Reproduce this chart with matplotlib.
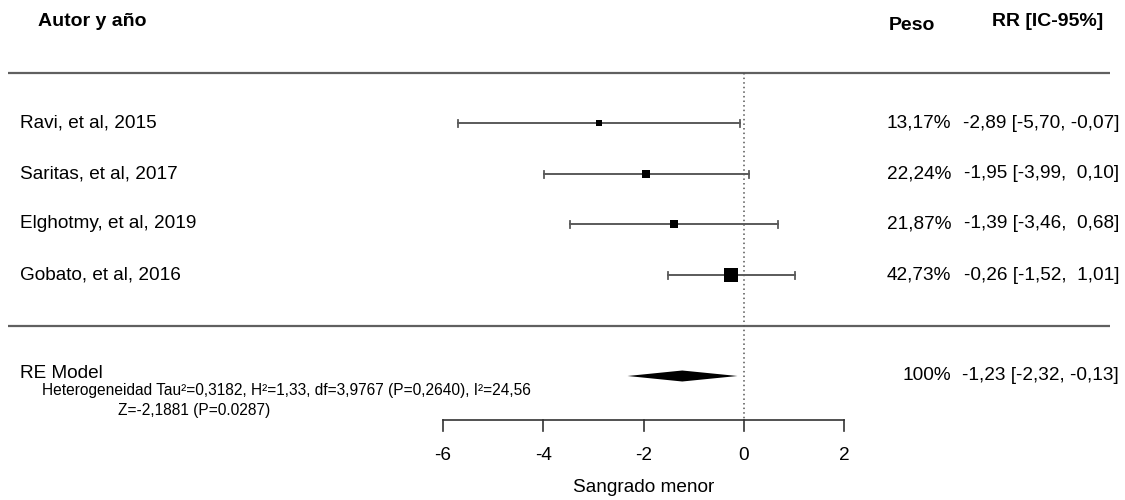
import matplotlib
matplotlib.use("Agg")
import matplotlib.pyplot as plt
from matplotlib.patches import Polygon

plt.rcParams['font.family'] = ['Liberation Sans', 'DejaVu Sans']

# ---- data ----
studies = ["Ravi, et al, 2015", "Saritas, et al, 2017", "Elghotmy, et al, 2019", "Gobato, et al, 2016"]
weights = [13.17, 22.24, 21.87, 42.73]
estimates = [-2.89, -1.95, -1.39, -0.26]
lower = [-5.70, -3.99, -3.46, -1.52]
upper = [-0.07, 0.10, 0.68, 1.01]
re_label = "RE Model"
re_est, re_lo, re_hi = -1.23, -2.32, -0.13
re_weight = "100%"
xticks = [-6, -4, -2, 0, 2]
xlabel = "Sangrado menor"
het_text = "Heterogeneidad Tau\u00b2=0,3182, H\u00b2=1,33, df=3,9767 (P=0,2640), I\u00b2=24,56"
z_text = "Z=-2,1881 (P=0.0287)"
headers = ["Autor y a\u00f1o", "Peso", "RR [IC-95%]"]


def num(v):
    return f"{v:.2f}".replace(".", ",").rjust(5)


def rr_str(e, l, u):
    return f"{num(e).strip()} [{num(l)}, {num(u)}]"


# ---- layout (pixel frame) ----
W, H = 1125, 500
fig = plt.figure(figsize=(W / 100, H / 100), dpi=100)
ax = fig.add_axes([0, 0, 1, 1])
ppu = 50.2          # pixels per unit
x0px = 744          # pixel of x=0
ax.set_xlim(-x0px / ppu, (W - x0px) / ppu)
ax.set_ylim(H, 0)
ax.axis("off")


def px(x):
    return (x - x0px) / ppu


row_y = [123, 174, 224, 275]
re_y = 376
line_col = "#606060"
bar_col = "#5a5a5a"
fs = 13.7

# separators
for yy in (73, 326):
    ax.plot([px(8), px(1110)], [yy, yy], color=line_col, lw=1.6, solid_capstyle="butt")

# reference line at 0
ax.plot([0, 0], [73, 420], color="#555555", lw=1.1, ls=(0, (1, 2)))

# headers
ax.text(px(38), 22, headers[0], fontsize=14, fontweight="bold", va="center", ha="left")
ax.text(px(935), 25, headers[1], fontsize=14, fontweight="bold", va="center", ha="right")
ax.text(px(1103), 22, headers[2], fontsize=14, fontweight="bold", va="center", ha="right")

# studies
for name, w, e, l, u, y in zip(studies, weights, estimates, lower, upper, row_y):
    ax.plot([l, u], [y, y], color=bar_col, lw=1.4)
    for c in (l, u):
        ax.plot([c, c], [y - 3.5, y + 3.5], color=bar_col, lw=1.3)
    side_px = 1 + 0.31 * w
    ax.plot([e], [y], marker="s", color="black", markersize=side_px * 0.72, mew=0)
    ax.text(px(20), y, name, fontsize=fs, va="center", ha="left")
    ax.text(px(951), y, f"{w:.2f}".replace(".", ",") + "%", fontsize=fs, va="center", ha="right")
    ax.text(px(1119), y, rr_str(e, l, u), fontsize=fs, va="center", ha="right")

# RE model
diamond = Polygon([[re_lo, re_y], [re_est, re_y - 5.5], [re_hi, re_y], [re_est, re_y + 5.5]],
                  closed=True, color="black", lw=0)
ax.add_patch(diamond)
ax.text(px(20), re_y - 2, re_label, fontsize=fs, va="center", ha="left")
ax.text(px(951), re_y, re_weight, fontsize=fs, va="center", ha="right")
ax.text(px(1119), re_y, rr_str(re_est, re_lo, re_hi), fontsize=fs, va="center", ha="right")
ax.text(px(42), 391, het_text, fontsize=11.2, va="center", ha="left")
ax.text(px(118), 410, z_text, fontsize=11.2, va="center", ha="left")

# x axis
ax_y = 420
ax.plot([xticks[0], xticks[-1]], [ax_y, ax_y], color="#333333", lw=1.2)
for t in xticks:
    ax.plot([t, t], [ax_y, ax_y + 11], color="#333333", lw=1.2)
    ax.text(t, 455, f"{t}", fontsize=fs, va="center", ha="center")
ax.text((xticks[0] + xticks[-1]) / 2, 488, xlabel, fontsize=fs, va="center", ha="center")

fig.savefig("out.png", dpi=100)
